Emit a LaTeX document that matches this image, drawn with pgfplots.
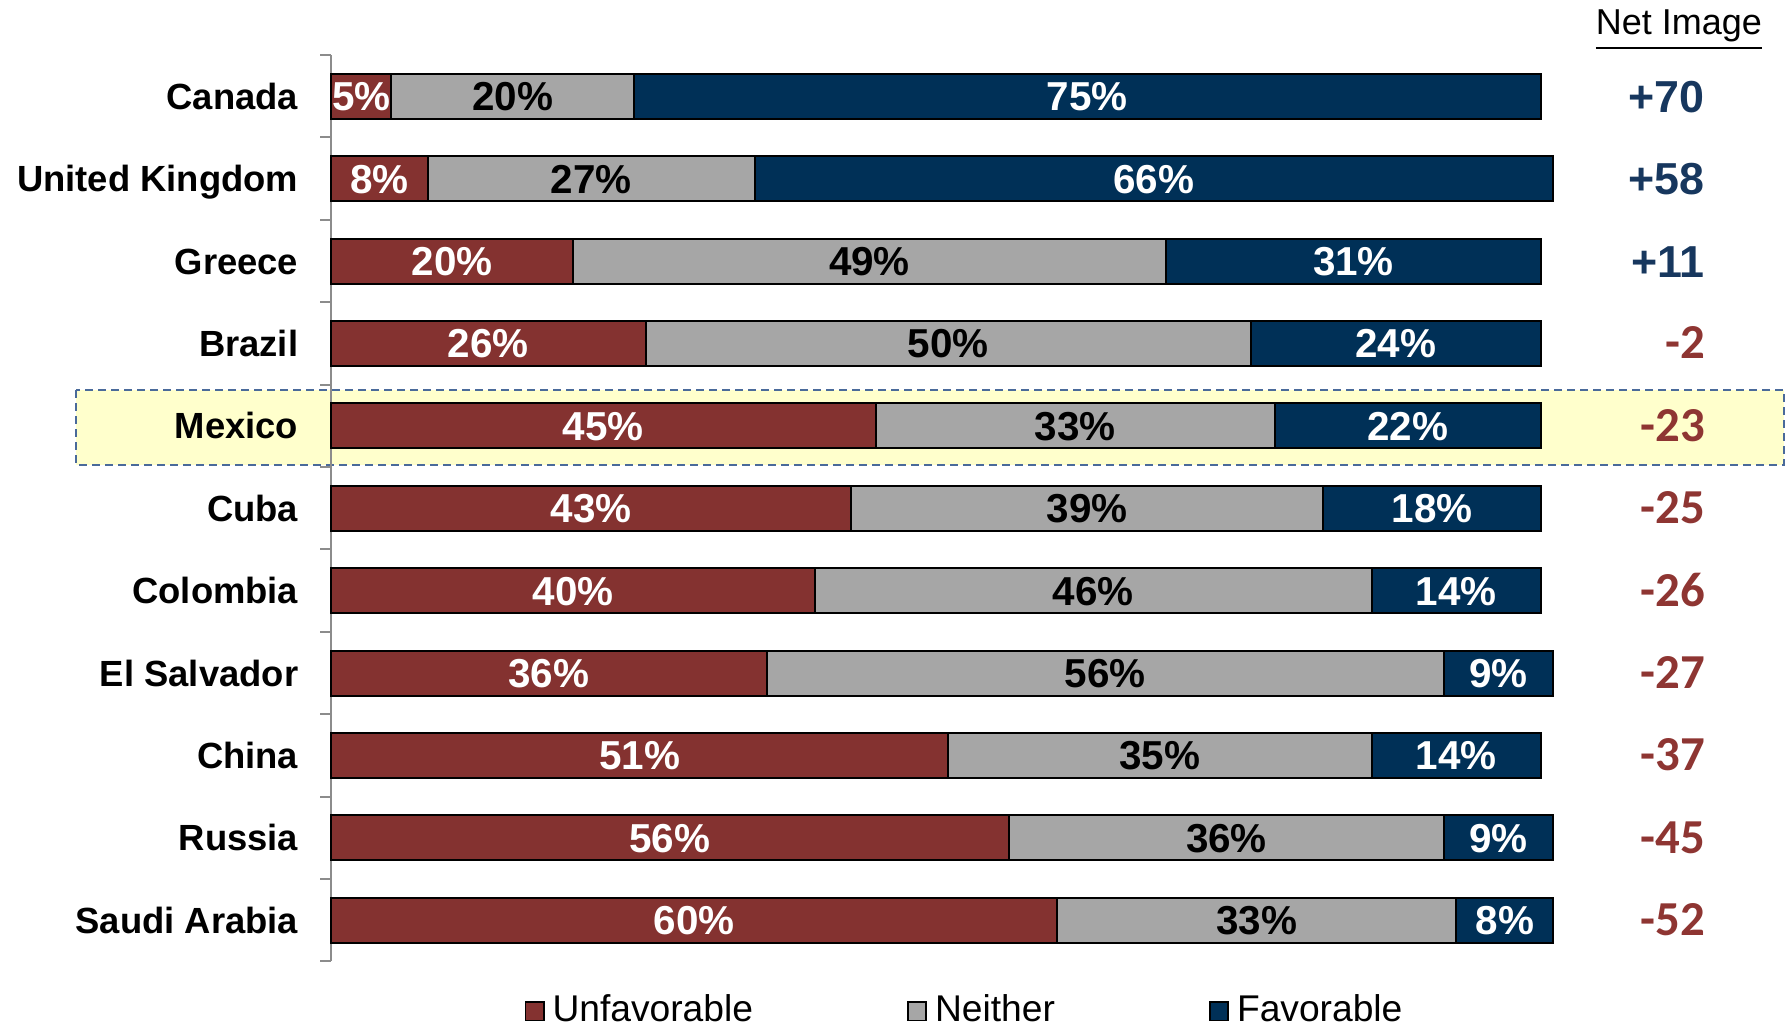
\documentclass[border=0pt]{standalone}
\usepackage{pgfplots}
\pgfplotsset{compat=1.18}
\usepackage{pgfplotstable}
\usepackage{fontspec}
\setmainfont{Liberation Sans}
\newfontfamily\carlito{Carlito}
\definecolor{unfav}{HTML}{843230}
\definecolor{neith}{HTML}{A6A6A6}
\definecolor{fav}{HTML}{003057}
\definecolor{netblue}{HTML}{17375E}
\definecolor{netred}{HTML}{8E3532}
\definecolor{hlfill}{HTML}{FFFFCC}
\definecolor{hldash}{HTML}{4A6A9A}
\definecolor{axgrey}{HTML}{8C8C8C}

\pgfplotstableread{
idx U N F
0 5 20 75
1 8 27 66
2 20 49 31
3 26 50 24
4 45 33 22
5 43 39 18
6 40 46 14
7 36 56 9
8 51 35 14
9 56 36 9
10 60 33 8
}\data

\begin{document}
\begin{tikzpicture}
\pgfplotsset{
  common/.style={scale only axis, width=302.5pt, height=226.6pt,
    xmin=0, xmax=100, ymin=-0.5, ymax=10.5, y dir=reverse, clip=false},
  barlbl/.style={draw=none, mark=none, point meta=explicit, nodes near coords={\pgfmathprintnumber[assume math mode=true]{\pgfplotspointmeta}\%},
    every node near coord/.append style={font=\fontsize{10.1}{12}\selectfont\bfseries, text=#1, anchor=center, inner sep=0pt, text height=7.2pt, text depth=0pt}},
}
% highlight band behind everything
\begin{axis}[common, hide axis]
\filldraw[fill=hlfill, draw=hldash, dash pattern=on 2pt off 1.25pt, line width=0.5pt]
  (axis cs:-21.07,3.566) rectangle (axis cs:120.08,4.476);
\coordinate (bl) at (axis cs:-27.355,11.26);
\coordinate (tr) at (axis cs:120.41,-1.1675);
\end{axis}
\begin{axis}[common, xbar stacked, bar width=0.546,
  axis x line=none, axis y line*=left, xtick=\empty,
  y axis line style={draw=axgrey, line width=0.5pt},
  ytick={0,...,10},
  yticklabels={Canada,United Kingdom,Greece,Brazil,Mexico,Cuba,Colombia,El Salvador,China,Russia,Saudi Arabia},
  major tick length=0pt,
  minor ytick={-0.5,0.5,...,10.5},
  minor tick length=2.7pt,
  tick align=outside,
  minor tick style={draw=axgrey, line width=0.5pt},
  yticklabel style={font=\fontsize{9.1}{10}\selectfont\bfseries, anchor=east, inner sep=0pt, xshift=-8pt, text height=6.5pt, text depth=0pt},
  legend image code/.code={\draw[#1, draw=black, line width=0.4pt] (0pt,-2.3pt) rectangle (4.6pt,2.3pt);},
  legend style={draw=none, fill=none, at={(0.526,-0.055)}, anchor=center, legend columns=3,
    inner sep=0pt, nodes={inner xsep=2pt, inner ysep=0.3pt},
    font=\fontsize{9.3}{11}\selectfont, /tikz/every even column/.append style={column sep=36.5pt},
    /tikz/every odd column/.append style={column sep=0pt}},
  legend cell align=left,
]
\addplot[fill=unfav, draw=black, line width=0.5pt] table[y=idx, x=U] {\data};
\addlegendentry{Unfavorable}
\addplot[fill=neith, draw=black, line width=0.5pt] table[y=idx, x=N] {\data};
\addlegendentry{Neither}
\addplot[fill=fav, draw=black, line width=0.5pt] table[y=idx, x=F] {\data};
\addlegendentry{Favorable}
\end{axis}
\begin{axis}[common, hide axis]
% segment labels, centred in each segment
\addplot[barlbl=white] table[y=idx, x expr=\thisrow{U}/2, meta=U] {\data};
\addplot[barlbl=black] table[y=idx, x expr=\thisrow{U}+\thisrow{N}/2, meta=N] {\data};
\addplot[barlbl=white] table[y=idx, x expr=\thisrow{U}+\thisrow{N}+\thisrow{F}/2, meta=F] {\data};
% net image column
\addplot[draw=none, mark=none, point meta=explicit symbolic, nodes near coords,
  every node near coord/.append style={anchor=east, text=netblue, font=\fontsize{11.2}{13}\selectfont\bfseries, text height=8pt, text depth=0pt, inner sep=0pt}]
  coordinates {(113.6,0) [+70] (113.6,1) [+58] (113.6,2) [+11]};
\addplot[draw=none, mark=none, point meta=explicit symbolic, nodes near coords,
  every node near coord/.append style={anchor=east, text=netred, font=\fontsize{12.2}{13}\carlito\bfseries, text height=7.7pt, text depth=0pt, inner sep=0pt}]
  coordinates {(113.6,3) [-2] (113.6,4) [-23] (113.6,5) [-25] (113.6,6) [-26] (113.6,7) [-27] (113.6,8) [-37] (113.6,9) [-45] (113.6,10) [-52]};
\node[font=\fontsize{9}{10}\selectfont, anchor=base] at (axis cs:111.4,-0.743) {\underline{Net Image}};
\end{axis}
\pgfresetboundingbox
\useasboundingbox (bl) rectangle (tr);
\end{tikzpicture}
\end{document}
